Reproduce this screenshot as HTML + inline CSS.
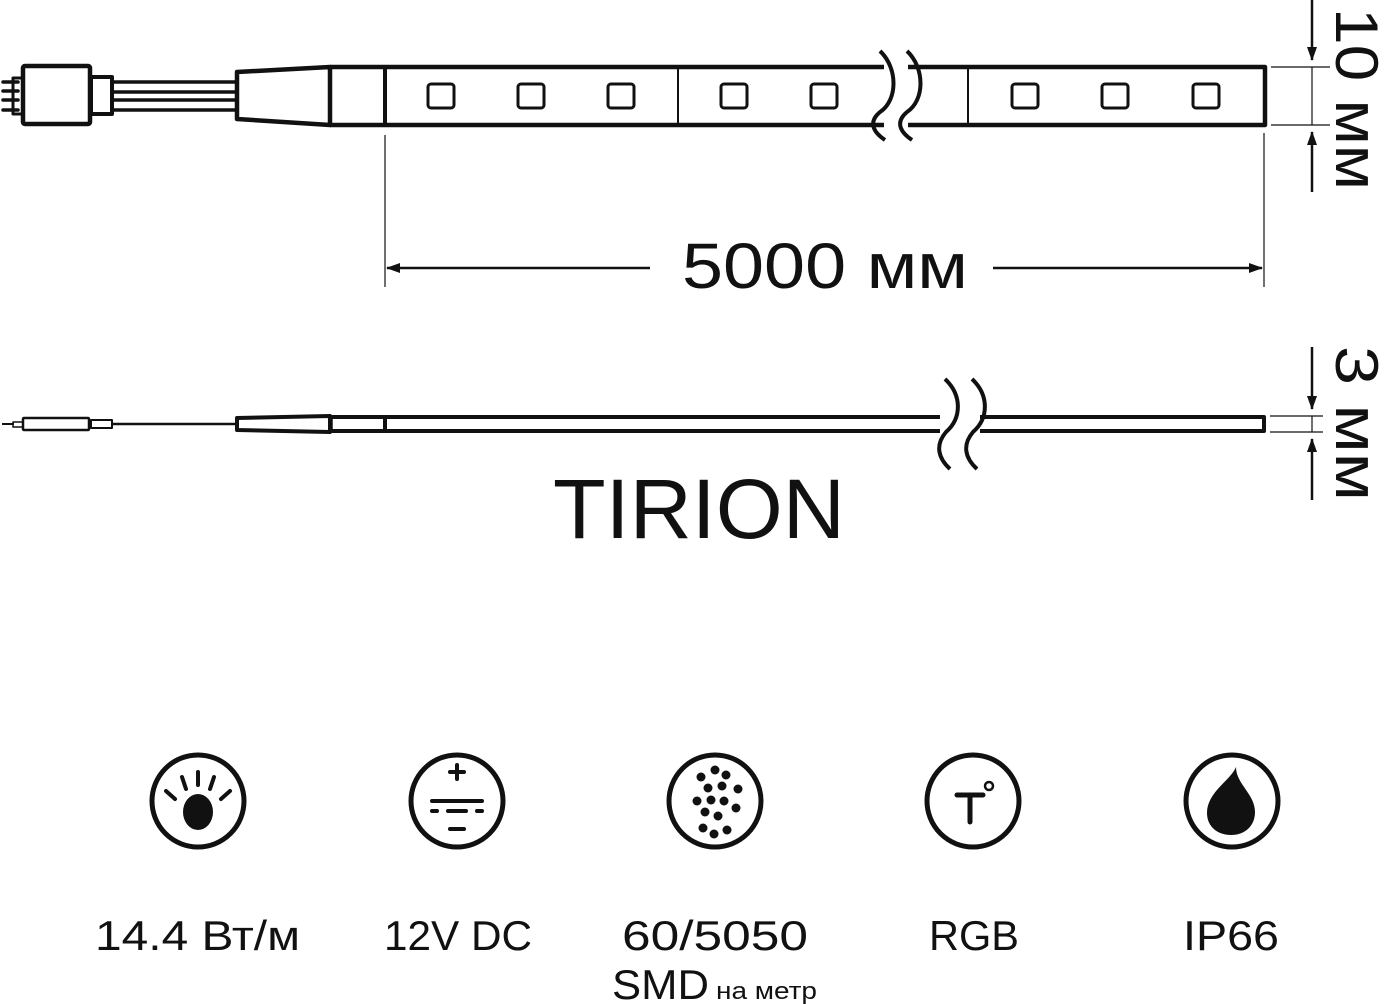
<!DOCTYPE html>
<html><head><meta charset="utf-8"><style>
html,body{margin:0;padding:0;background:#fff;}
svg{display:block}
text{font-family:"Liberation Sans",sans-serif;fill:#111}
</style></head><body>
<svg width="1386" height="1004" viewBox="0 0 1386 1004" xmlns="http://www.w3.org/2000/svg">
<defs>
<marker id="ah" markerWidth="14" markerHeight="10" refX="13" refY="5" orient="auto" markerUnits="userSpaceOnUse">
<path d="M0,0 L14,5 L0,10 Z" fill="#111"/></marker>
</defs>
<g stroke="#111" fill="none" stroke-linejoin="round">
<g stroke-width="3.5" stroke-linecap="round"><line x1="3" y1="82" x2="18" y2="82"/><line x1="3" y1="91" x2="18" y2="91"/><line x1="3" y1="100" x2="18" y2="100"/><line x1="3" y1="110" x2="18" y2="110"/></g>
<rect x="13" y="78" width="10" height="36" stroke-width="3"/>
<rect x="23" y="66" width="67" height="58" rx="2" stroke-width="4.5"/>
<rect x="91" y="77" width="21" height="37" stroke-width="4"/>
<g stroke-width="3.5"><line x1="112" y1="82" x2="236" y2="82"/><line x1="112" y1="92" x2="236" y2="92"/><line x1="112" y1="100" x2="236" y2="100"/><line x1="112" y1="110" x2="236" y2="110"/></g>
<path d="M237,72 L330,67 L330,125 L237,119 Z" stroke-width="4.5"/>
<path d="M330,67 L1265,67 L1265,125 L330,125" stroke-width="4.5"/>
<line x1="385" y1="67" x2="385" y2="125" stroke-width="4"/>
<line x1="678" y1="67" x2="678" y2="125" stroke-width="2"/>
<line x1="968" y1="67" x2="968" y2="125" stroke-width="2"/>
<g stroke-width="3">
<rect x="428" y="84" width="26" height="24" rx="3"/><rect x="518" y="84" width="26" height="24" rx="3"/><rect x="608" y="84" width="26" height="24" rx="3"/>
<rect x="721" y="84" width="26" height="24" rx="3"/><rect x="811" y="84" width="26" height="24" rx="3"/>
<rect x="1012" y="84" width="26" height="24" rx="3"/><rect x="1102" y="84" width="26" height="24" rx="3"/><rect x="1193" y="84" width="26" height="24" rx="3"/>
</g>
<rect x="884" y="60" width="24" height="72" fill="#fff" stroke="none"/>
<path d="M880,51 C898,68 898,100 880,112 C868,122 873,132 885,140" stroke-width="4"/>
<path d="M907,51 C925,68 925,100 907,112 C895,122 900,132 912,140" stroke-width="4"/>
<line x1="385" y1="135" x2="385" y2="287" stroke-width="1.2"/>
<line x1="1264" y1="133" x2="1264" y2="287" stroke-width="1.2"/>
<line x1="650" y1="268" x2="387" y2="268" stroke-width="2.5" marker-end="url(#ah)"/>
<line x1="993" y1="268" x2="1262" y2="268" stroke-width="2.5" marker-end="url(#ah)"/>
<line x1="1271" y1="67" x2="1330" y2="67" stroke-width="1.2"/>
<line x1="1271" y1="125" x2="1330" y2="125" stroke-width="1.2"/>
<line x1="1312" y1="67" x2="1312" y2="125" stroke-width="1.2"/>
<line x1="1312" y1="0" x2="1312" y2="60" stroke-width="2.5" marker-end="url(#ah)"/>
<line x1="1312" y1="192" x2="1312" y2="132" stroke-width="2.5" marker-end="url(#ah)"/>
<line x1="2" y1="424" x2="14" y2="424" stroke-width="2"/>
<rect x="13" y="422" width="10" height="5" stroke-width="1.5"/>
<rect x="23" y="418" width="66" height="12" rx="1" stroke-width="2.5"/>
<rect x="91" y="420" width="21" height="8" stroke-width="2"/>
<line x1="112" y1="424" x2="236" y2="424" stroke-width="2.5"/>
<path d="M237,418 L330,416 L330,432 L237,430 Z" stroke-width="4"/>
<path d="M330,417 L1264,417 L1264,431 L330,431" stroke-width="4"/>
<line x1="331" y1="417" x2="331" y2="431" stroke-width="3.5"/>
<line x1="385" y1="417" x2="385" y2="431" stroke-width="4"/>
<rect x="940" y="410" width="40" height="28" fill="#fff" stroke="none"/>
<path d="M945,379 C962,395 962,418 946,432 C935,445 938,458 950,469" stroke-width="4"/>
<path d="M972,379 C989,395 989,418 973,432 C962,445 965,458 977,469" stroke-width="4"/>
<line x1="1270" y1="416" x2="1323" y2="416" stroke-width="1.2"/>
<line x1="1270" y1="432" x2="1323" y2="432" stroke-width="1.2"/>
<line x1="1312" y1="416" x2="1312" y2="432" stroke-width="1.2"/>
<line x1="1312" y1="347" x2="1312" y2="409" stroke-width="2.5" marker-end="url(#ah)"/>
<line x1="1312" y1="500" x2="1312" y2="439" stroke-width="2.5" marker-end="url(#ah)"/>
<g stroke-width="5">
<circle cx="198" cy="801" r="46"/><circle cx="457" cy="801" r="46"/><circle cx="715" cy="801" r="46"/><circle cx="973" cy="801" r="46"/><circle cx="1232" cy="801" r="46"/>
</g>
<g stroke-width="4" stroke-linecap="round">
<line x1="198" y1="772" x2="198" y2="785"/>
<line x1="182" y1="777" x2="186" y2="789"/>
<line x1="214" y1="777" x2="210" y2="789"/>
<line x1="166" y1="791" x2="175" y2="799"/>
<line x1="230" y1="791" x2="221" y2="799"/>
</g>
<g stroke-width="4" stroke-linecap="round">
<line x1="457" y1="765" x2="457" y2="779"/><line x1="450" y1="772" x2="464" y2="772"/>
<line x1="432" y1="801" x2="482" y2="801"/>
<line x1="432" y1="811" x2="437" y2="811"/><line x1="448" y1="811" x2="466" y2="811"/><line x1="477" y1="811" x2="482" y2="811"/>
<line x1="450" y1="829" x2="464" y2="829"/>
</g>
<g stroke-width="5" stroke-linecap="round">
<line x1="957" y1="795" x2="983" y2="795"/><line x1="970" y1="795" x2="970" y2="822"/>
</g>
<circle cx="989" cy="786" r="4" stroke-width="2.5"/>
</g>
<g fill="#111">
<ellipse cx="198" cy="812" rx="15" ry="18"/>
<g>
<circle cx="715" cy="770" r="4.5"/><circle cx="701" cy="777" r="4.5"/><circle cx="726" cy="775" r="4.5"/>
<circle cx="708" cy="788" r="4.5"/><circle cx="722" cy="786" r="4.5"/><circle cx="697" cy="801" r="4.5"/><circle cx="738" cy="789" r="4.5"/>
<circle cx="711" cy="800" r="4.5"/><circle cx="724" cy="801" r="4.5"/><circle cx="736" cy="808" r="4.5"/>
<circle cx="705" cy="812" r="4.5"/><circle cx="718" cy="816" r="4.5"/><circle cx="703" cy="828" r="4.5"/>
<circle cx="714" cy="834" r="4.5"/><circle cx="727" cy="830" r="4.5"/>
</g>
<path d="M1236,767 C1231,780 1207,792 1207,813 C1207,827 1218,835 1231,835 C1245,835 1255,826 1255,812 C1255,794 1236,784 1236,767 Z"/>
</g>
<text x="825" y="288" font-size="64" text-anchor="middle" textLength="286" lengthAdjust="spacingAndGlyphs">5000 мм</text>
<text transform="translate(1336,8) rotate(90)" font-size="60" textLength="182" lengthAdjust="spacingAndGlyphs">10 мм</text>
<text transform="translate(1336,346) rotate(90)" font-size="60" textLength="155" lengthAdjust="spacingAndGlyphs">3 мм</text>
<text x="553" y="538" font-size="84" textLength="292" lengthAdjust="spacingAndGlyphs">TIRION</text>
<text x="95" y="950" font-size="42" textLength="205" lengthAdjust="spacingAndGlyphs">14.4 Вт/м</text>
<text x="384" y="950" font-size="42" textLength="148" lengthAdjust="spacingAndGlyphs">12V DC</text>
<text x="622" y="950" font-size="42" textLength="186" lengthAdjust="spacingAndGlyphs">60/5050</text>
<text x="612" y="999" font-size="42" textLength="97" lengthAdjust="spacingAndGlyphs">SMD</text>
<text x="716" y="999" font-size="24" textLength="101" lengthAdjust="spacingAndGlyphs">на метр</text>
<text x="929" y="950" font-size="42" textLength="90" lengthAdjust="spacingAndGlyphs">RGB</text>
<text x="1183" y="950" font-size="42" textLength="96" lengthAdjust="spacingAndGlyphs">IP66</text>
</svg>
</body></html>
